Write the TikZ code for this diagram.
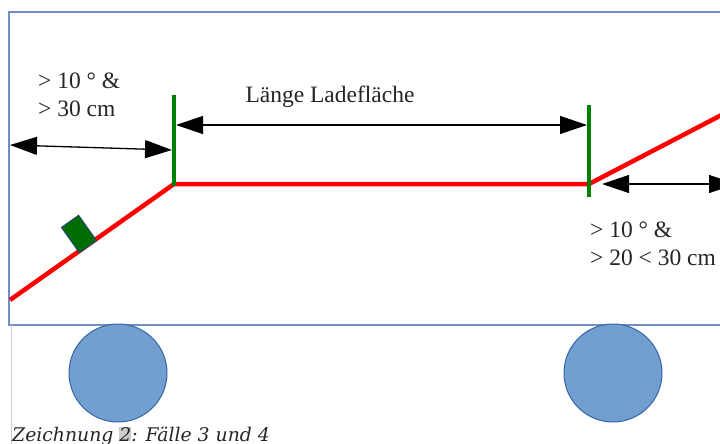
\documentclass[tikz,border=0pt]{standalone}
\usepackage{fontspec}
\setmainfont{Liberation Serif}
\newfontfamily\capfont{DejaVu Serif}
\usepackage{xcolor}
\usetikzlibrary{positioning,calc,arrows.meta}
\definecolor{framebl}{HTML}{6F8FC5}
\definecolor{wheelfill}{HTML}{729FCF}
\definecolor{wheeldraw}{HTML}{3465A4}
\definecolor{rampred}{HTML}{FF0000}
\definecolor{markgreen}{HTML}{008000}
\tikzset{
  ramp/.style={draw=rampred, line width=4.5pt},
  marker/.style={draw=markgreen, line width=4pt},
  dimline/.style={{Triangle[length=27pt,width=18pt]}-{Triangle[length=27pt,width=18pt]}, line width=1.3pt, black},
  wheel/.style={circle, fill=wheelfill, draw=wheeldraw, line width=1pt, minimum size=98pt, inner sep=0pt},
  label/.style={font=\fontsize{23.5}{28}\selectfont, text=black!85, inner sep=0pt, align=left},
  box/.style={rectangle, fill=markgreen!85!black, draw=wheeldraw!70!black, line width=1pt, minimum width=21pt, minimum height=31pt, inner sep=0pt}
}
\begin{document}
\begin{tikzpicture}[x=1pt,y=-1pt]
    \useasboundingbox (0,0) rectangle (720,444);
    \clip (0,0) rectangle (720,444);
    \fill[white] (0,0) rectangle (720,444);

    % vehicle body
    \draw[framebl, line width=1.2pt] (9,12) rectangle (740,325);
    \draw[black!20, line width=1pt] (11,325) -- (11,444);

    % wheels
    \node[wheel] (wheelL) at (118,373) {};
    \node[wheel] (wheelR) at (613,373) {};

    % ramp profile
    \coordinate (rampA) at (10,300);
    \coordinate (rampB) at (174,184);
    \coordinate (rampC) at (589,184);
    \coordinate (rampD) at (735,108);
    \draw[ramp] (rampA) -- (rampB) -- (rampC) -- (rampD);

    % green limits
    \coordinate (limLtop) at (174,95);
    \coordinate (limLbot) at (174,186);
    \coordinate (limRtop) at (589,105);
    \coordinate (limRbot) at (589,197);
    \draw[marker] (limLtop) -- (limLbot);
    \draw[marker] (limRtop) -- (limRbot);

    % load on the ramp
    \node[box, rotate=35.3] (load) at (79,234) {};

    % dimension arrows
    \coordinate (dimLa) at (10,145);
    \coordinate (dimLb) at (172,150);
    \coordinate (dimMa) at (176,125);
    \coordinate (dimMb) at (587,125);
    \coordinate (dimRa) at (602,184);
    \coordinate (dimRb) at (736,184);
    \draw[dimline] (dimLa) -- (dimLb);
    \draw[dimline] (dimMa) -- (dimMb);
    \draw[dimline] (dimRa) -- (dimRb);

    % texts
    \node[label, anchor=north west] (txtL) at (38,73) {> 10 ° \&\\> 30 cm};
    \node[label] (txtM) at (330,97) {Länge Ladefläche};
    \node[label, anchor=north west] (txtR) at (590,222) {> 10 ° \&\\> 20 < 30 cm};

    % caption
    \node[anchor=base west, inner sep=0pt, font=\capfont\itshape\fontsize{18.8}{20}\selectfont, text=black!85] (caption) at (12,441)
        {Zeichnung {\setlength\fboxsep{0pt}\colorbox{black!20}{2}}: Fälle 3 und 4};
\end{tikzpicture}
\end{document}
